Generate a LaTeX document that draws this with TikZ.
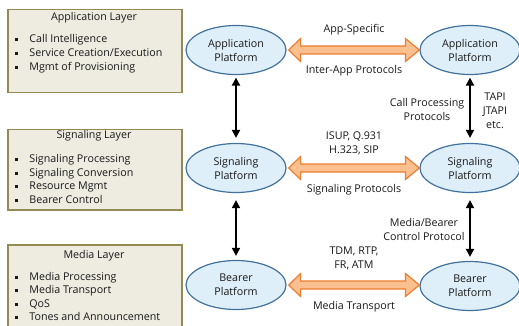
\documentclass[tikz,border=0pt]{standalone}
\usepackage{fontspec}
\setmainfont{Open Sans}
\usetikzlibrary{arrows.meta,shapes.geometric,calc}
\definecolor{boxfill}{RGB}{238,236,225}
\definecolor{boxline}{RGB}{148,138,84}
\definecolor{platfill}{RGB}{222,239,249}
\definecolor{platline}{RGB}{65,113,156}
\definecolor{orfill}{RGB}{251,192,143}
\definecolor{orline}{RGB}{237,125,49}
\definecolor{txt}{RGB}{25,25,25}
\begin{document}
\begin{tikzpicture}[x=1pt,y=-1pt,
  font=\fontsize{10.7}{14}\selectfont, text=txt,
  layerbox/.style={draw=boxline, fill=boxfill, line width=1.5pt, anchor=north west, minimum width=174pt, inner sep=0pt},
  plat/.style={ellipse, draw=platline, fill=platfill, line width=1.2pt, minimum width=100pt, minimum height=49pt, inner sep=0pt, align=center},
  varrow/.style={line width=1.8pt, {Triangle[width=8pt,length=8pt]}-{Triangle[width=8pt,length=8pt]}},
  fatarr/.style={draw=orline, fill=orfill, line width=1.2pt, line join=miter},
  lbl/.style={inner sep=0pt, align=center},
  ttl/.style={inner sep=0pt, anchor=mid},
  item/.style={anchor=mid west, inner sep=0pt}
]
\useasboundingbox (0,0) rectangle (519,326);

% layer boxes
\node[layerbox, minimum height=83pt] (L1) at (7,9) {};
\node[layerbox, minimum height=80pt] (L2) at (7,129) {};
\node[layerbox, minimum height=92pt] (L3) at (7,244) {};

\newcommand\bul{\rule[1.6pt]{2.6pt}{2.6pt}\hspace{11.6pt}}

\node[ttl] (t1) at (94,18) {Application Layer};
\node[item] (i11) at (15,40) {\bul Call Intelligence};
\node[item] (i12) at (15,54) {\bul Service Creation/Execution};
\node[item] (i13) at (15,68) {\bul Mgmt of Provisioning};

\node[ttl] (t2) at (94,136) {Signaling Layer};
\node[item] (i21) at (15,160) {\bul Signaling Processing};
\node[item] (i22) at (15,174) {\bul Signaling Conversion};
\node[item] (i23) at (15,187) {\bul Resource Mgmt};
\node[item] (i24) at (15,201) {\bul Bearer Control};

\node[ttl] (t3) at (94,256) {Media Layer};
\node[item] (i31) at (15,278) {\bul Media Processing};
\node[item] (i32) at (15,291) {\bul Media Transport};
\node[item] (i33) at (15,305) {\bul QoS};
\node[item] (i34) at (15,318) {\bul Tones and Announcement};

% platforms
\node[plat] (a1) at (236,50) {Application\\Platform};
\node[plat] (s1) at (236,168) {Signaling\\Platform};
\node[plat] (b1) at (236,285) {Bearer\\Platform};
\node[plat] (a2) at (470,50) {Application\\Platform};
\node[plat] (s2) at (470,168) {Signaling\\Platform};
\node[plat] (b2) at (470,286) {Bearer\\Platform};

% vertical arrows
\draw[varrow, shorten <=2.5pt, shorten >=5pt] (a1) -- (s1);
\draw[varrow, shorten <=7pt, shorten >=4pt] (s1) -- (b1);
\draw[varrow, shorten <=2.5pt, shorten >=5pt] (a2) -- (s2);
\draw[varrow, shorten <=7pt, shorten >=4pt] (s2) -- (b2);

% fat orange arrows
\foreach \u/\v in {a1/a2, s1/s2, b1/b2}{
  \path[fatarr] let \p1=(\u.east), \p2=(\v.west) in
    (\x1+2pt,\y1) -- (\x1+14pt,\y1+11.5pt) -- (\x1+14pt,\y1+4pt) --
    (\x2-14pt,\y1+4pt) -- (\x2-14pt,\y1+11.5pt) -- (\x2,\y1) --
    (\x2-14pt,\y1-11.5pt) -- (\x2-14pt,\y1-4pt) -- (\x1+14pt,\y1-4pt) --
    (\x1+14pt,\y1-11.5pt) -- cycle;
}

% labels
\node[ttl] (l1) at (354,30) {App-Specific};
\node[ttl] (l2) at (354,71) {Inter-App Protocols};
\node[lbl] (l3) at (354,143) {ISUP, Q.931\\H.323, SIP};
\node[ttl] (l4) at (354,190) {Signaling Protocols};
\node[lbl] (l5) at (354,258) {TDM, RTP,\\FR, ATM};
\node[ttl] (l6) at (354,307) {Media Transport};
\node[lbl] (l7) at (427,109) {Call Processing\\Protocols};
\node[lbl] (l8) at (495,111) {TAPI\\JTAPI\\etc.};
\node[lbl] (l9) at (424,229) {Media/Bearer\\Control Protocol};
\end{tikzpicture}
\end{document}
